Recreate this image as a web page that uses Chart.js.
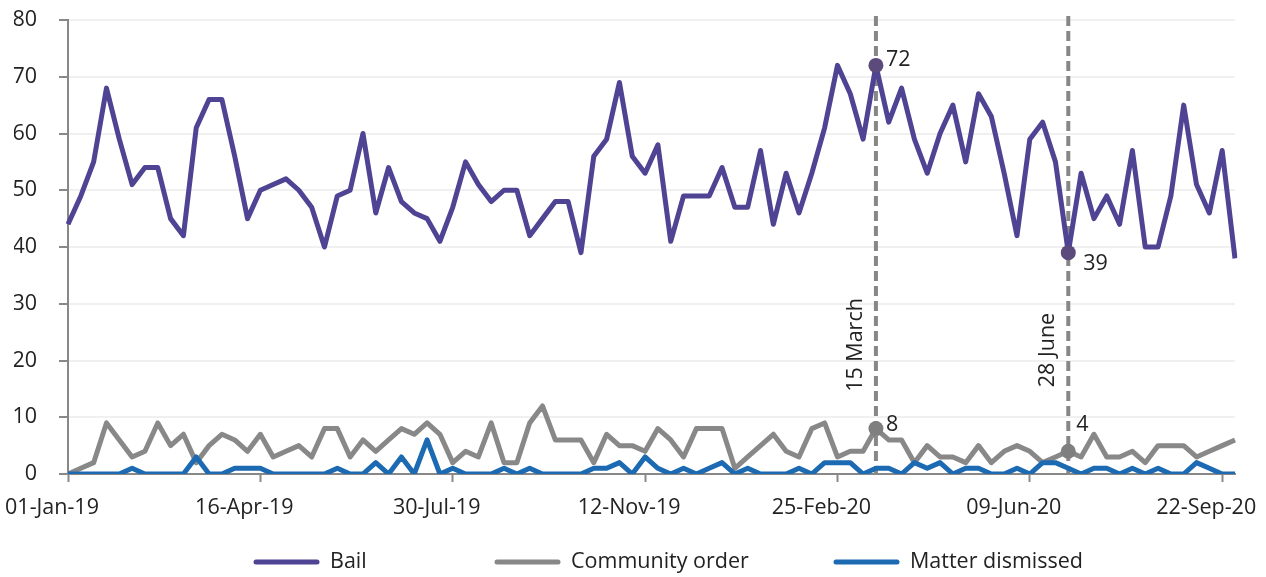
<!DOCTYPE html>
<html>
<head>
<meta charset="utf-8">
<script src="https://cdn.jsdelivr.net/npm/chart.js@4.4.0/dist/chart.umd.min.js"></script>
<style>
  html, body { margin: 0; padding: 0; background: #fff; }
  #wrap { width: 1266px; height: 577px; }
</style>
</head>
<body>
<div id="wrap"><canvas id="myChart"></canvas></div>
<script>
// weekly periods, 01-Jan-19 to 29-Sep-20
var weeks = [
  '01-Jan-19', '08-Jan-19', '15-Jan-19', '22-Jan-19', '29-Jan-19',
  '05-Feb-19', '12-Feb-19', '19-Feb-19', '26-Feb-19',
  '05-Mar-19', '12-Mar-19', '19-Mar-19', '26-Mar-19',
  '02-Apr-19', '09-Apr-19', '16-Apr-19', '23-Apr-19', '30-Apr-19',
  '07-May-19', '14-May-19', '21-May-19', '28-May-19',
  '04-Jun-19', '11-Jun-19', '18-Jun-19', '25-Jun-19',
  '02-Jul-19', '09-Jul-19', '16-Jul-19', '23-Jul-19', '30-Jul-19',
  '06-Aug-19', '13-Aug-19', '20-Aug-19', '27-Aug-19',
  '03-Sep-19', '10-Sep-19', '17-Sep-19', '24-Sep-19',
  '01-Oct-19', '08-Oct-19', '15-Oct-19', '22-Oct-19', '29-Oct-19',
  '05-Nov-19', '12-Nov-19', '19-Nov-19', '26-Nov-19',
  '03-Dec-19', '10-Dec-19', '17-Dec-19', '24-Dec-19', '31-Dec-19',
  '07-Jan-20', '14-Jan-20', '21-Jan-20', '28-Jan-20',
  '04-Feb-20', '11-Feb-20', '18-Feb-20', '25-Feb-20',
  '03-Mar-20', '10-Mar-20', '17-Mar-20', '24-Mar-20', '31-Mar-20',
  '07-Apr-20', '14-Apr-20', '21-Apr-20', '28-Apr-20',
  '05-May-20', '12-May-20', '19-May-20', '26-May-20',
  '02-Jun-20', '09-Jun-20', '16-Jun-20', '23-Jun-20', '30-Jun-20',
  '07-Jul-20', '14-Jul-20', '21-Jul-20', '28-Jul-20',
  '04-Aug-20', '11-Aug-20', '18-Aug-20', '25-Aug-20',
  '01-Sep-20', '08-Sep-20', '15-Sep-20', '22-Sep-20', '29-Sep-20'
];

var bail = [
  44, 49, 55, 68, 59, 51, 54, 54, 45, 42, 61, 66, 66, 56, 45, 50, 51, 52, 50, 47, 40,
  49, 50, 60, 46, 54, 48, 46, 45, 41, 47, 55, 51, 48, 50, 50, 42, 45, 48, 48, 39, 56, 59, 69, 56, 53,
  58, 41, 49, 49, 49, 54, 47, 47, 57, 44, 53, 46, 53, 61, 72,
  67, 59, 72, 62, 68, 59, 53, 60, 65, 55, 67, 63, 53, 42, 59, 62,
  55, 39, 53, 45, 49, 44, 57, 40, 40, 49, 65, 51, 46, 57, 38
];

var communityOrder = [
  0, 1, 2, 9, 6, 3, 4, 9, 5, 7, 2, 5, 7, 6, 4, 7, 3, 4, 5, 3, 8, 8, 3, 6, 4, 6, 8, 7, 9, 7,
  2, 4, 3, 9, 2, 2, 9, 12, 6, 6, 6, 2, 7, 5, 5,
  4, 8, 6, 3, 8, 8, 8, 1, 3, 5, 7, 4, 3, 8, 9, 3, 4, 4, 8, 6, 6, 2, 5, 3, 3, 2,
  5, 2, 4, 5, 4, 2, 3, 4, 3, 7, 3, 3, 4, 2, 5, 5, 5, 3, 4, 5, 6
];

var matterDismissed = [
  0, 0, 0, 0, 0, 1, 0, 0, 0, 0, 3, 0, 0, 1, 1, 1, 0, 0, 0, 0, 0, 1, 0, 0, 2, 0, 3, 0, 6, 0,
  1, 0, 0, 0, 1, 0, 1, 0, 0, 0, 0, 1, 1, 2, 0,
  3, 1, 0, 1, 0, 1, 2, 0, 1, 0, 0, 0, 1, 0, 2, 2, 2, 0, 1, 1, 0, 2, 1, 2, 0, 1,
  1, 0, 0, 1, 0, 2, 2, 1, 0, 1, 1, 0, 1, 0, 1, 0, 0, 2, 1, 0, 0
];

var tickLabels = ['01-Jan-19', '16-Apr-19', '30-Jul-19', '12-Nov-19', '25-Feb-20', '09-Jun-20', '22-Sep-20'];

// marked weeks
var eventWeeks = ['17-Mar-20', '30-Jun-20'];
var eventNames = ['15 March', '28 June'];
var eventIdx = eventWeeks.map(function (w) { return weeks.indexOf(w); });

var FONT = '"Open Sans", "Noto Sans", sans-serif';
var FS = 21.5;
Chart.defaults.font.family = FONT;
Chart.defaults.font.size = FS;
Chart.defaults.color = '#222';

function markerRadius(ctx) {
  return eventIdx.indexOf(ctx.dataIndex) >= 0 ? 7.5 : 0;
}

function noPad(scale) {
  scale.paddingLeft = 0;
  scale.paddingRight = 0;
  scale.paddingTop = 0;
  scale.paddingBottom = 0;
}

var eventPlugin = {
  id: 'eventLines',
  beforeDatasetsDraw: function (chart) {
    var ctx = chart.ctx, area = chart.chartArea, x = chart.scales.x;
    ctx.save();
    ctx.strokeStyle = '#878787';
    ctx.lineWidth = 4;
    ctx.setLineDash([10, 5]);
    eventIdx.forEach(function (i) {
      var px = x.getPixelForValue(i);
      ctx.beginPath();
      ctx.moveTo(px, area.top - 4);
      ctx.lineTo(px, area.bottom);
      ctx.stroke();
    });
    ctx.setLineDash([]);
    ctx.fillStyle = '#222';
    ctx.font = FS + 'px ' + FONT;
    ctx.textAlign = 'center';
    ctx.textBaseline = 'middle';
    eventIdx.forEach(function (i, k) {
      var px = x.getPixelForValue(i);
      ctx.save();
      ctx.translate(px - 20, k === 0 ? 345 : 350);
      ctx.rotate(-Math.PI / 2);
      ctx.fillText(eventNames[k], 0, 0);
      ctx.restore();
    });
    ctx.restore();
  },
  afterDatasetsDraw: function (chart) {
    var ctx = chart.ctx, x = chart.scales.x, y = chart.scales.y;
    ctx.save();
    ctx.fillStyle = '#222';
    ctx.font = FS + 'px ' + FONT;
    ctx.textAlign = 'left';
    ctx.textBaseline = 'middle';
    var i0 = eventIdx[0], i1 = eventIdx[1];
    ctx.fillText(String(bail[i0]), x.getPixelForValue(i0) + 10, y.getPixelForValue(bail[i0]) - 6);
    ctx.fillText(String(bail[i1]), x.getPixelForValue(i1) + 15, y.getPixelForValue(bail[i1]) + 11);
    ctx.fillText(String(communityOrder[i0]), x.getPixelForValue(i0) + 10, y.getPixelForValue(communityOrder[i0]) - 4);
    ctx.fillText(String(communityOrder[i1]), x.getPixelForValue(i1) + 8, y.getPixelForValue(communityOrder[i1]) - 26);
    ctx.restore();
  },
  afterDraw: function (chart) {
    // legend along the bottom
    var ctx = chart.ctx;
    var starts = [254, 495, 834];
    var ly = 562;
    ctx.save();
    ctx.font = FS + 'px ' + FONT;
    ctx.textBaseline = 'middle';
    ctx.textAlign = 'left';
    chart.data.datasets.forEach(function (ds, i) {
      ctx.strokeStyle = ds.borderColor;
      ctx.lineWidth = 5;
      ctx.lineCap = 'round';
      ctx.beginPath();
      ctx.moveTo(starts[i] + 2, ly);
      ctx.lineTo(starts[i] + 63, ly);
      ctx.stroke();
      ctx.fillStyle = '#222';
      ctx.fillText(ds.label, starts[i] + 76, ly);
    });
    ctx.restore();
  }
};

var ctx = document.getElementById('myChart').getContext('2d');
var myChart = new Chart(ctx, {
  type: 'line',
  data: {
    labels: weeks,
    datasets: [{
      label: 'Bail',
      data: bail,
      borderColor: '#4f4393',
      backgroundColor: '#4f4393',
      borderWidth: 5,
      pointRadius: markerRadius,
      pointBackgroundColor: '#5c4a7c',
      pointBorderWidth: 0,
      order: 3
    }, {
      label: 'Community order',
      data: communityOrder,
      borderColor: '#888888',
      backgroundColor: '#888888',
      borderWidth: 5,
      pointRadius: markerRadius,
      pointBackgroundColor: '#7f7f7f',
      pointBorderWidth: 0,
      order: 2
    }, {
      label: 'Matter dismissed',
      data: matterDismissed,
      borderColor: '#1c6ab2',
      backgroundColor: '#1c6ab2',
      borderWidth: 5,
      pointRadius: 0,
      order: 1
    }]
  },
  options: {
    responsive: true,
    maintainAspectRatio: false,
    animation: false,
    layout: { padding: { top: 20, right: 31, left: 14, bottom: 58 } },
    elements: {
      line: { tension: 0, borderJoinStyle: 'round', borderCapStyle: 'butt' },
      point: { hoverRadius: 0 }
    },
    plugins: {
      legend: { display: false },
      tooltip: { enabled: false }
    },
    scales: {
      x: {
        offset: false,
        afterFit: function (scale) {
          noPad(scale);
          scale.height = 45;
        },
        border: { color: '#888', width: 2 },
        grid: { drawOnChartArea: false, tickLength: 8, tickColor: '#888', tickWidth: 2 },
        ticks: {
          autoSkip: false,
          maxRotation: 0,
          padding: 13,
          labelOffset: -16,
          color: '#222',
          callback: function (v, i) {
            return tickLabels.indexOf(weeks[i]) >= 0 ? weeks[i] : null;
          }
        }
      },
      y: {
        min: 0,
        max: 80,
        afterFit: function (scale) {
          noPad(scale);
          scale.width = 54;
        },
        border: { color: '#888', width: 2 },
        grid: { color: '#f0f0f0', lineWidth: 2, tickLength: 9, tickColor: '#888', tickWidth: 2 },
        ticks: { stepSize: 10, padding: 22, color: '#222' }
      }
    }
  },
  plugins: [eventPlugin]
});
</script>
</body>
</html>
